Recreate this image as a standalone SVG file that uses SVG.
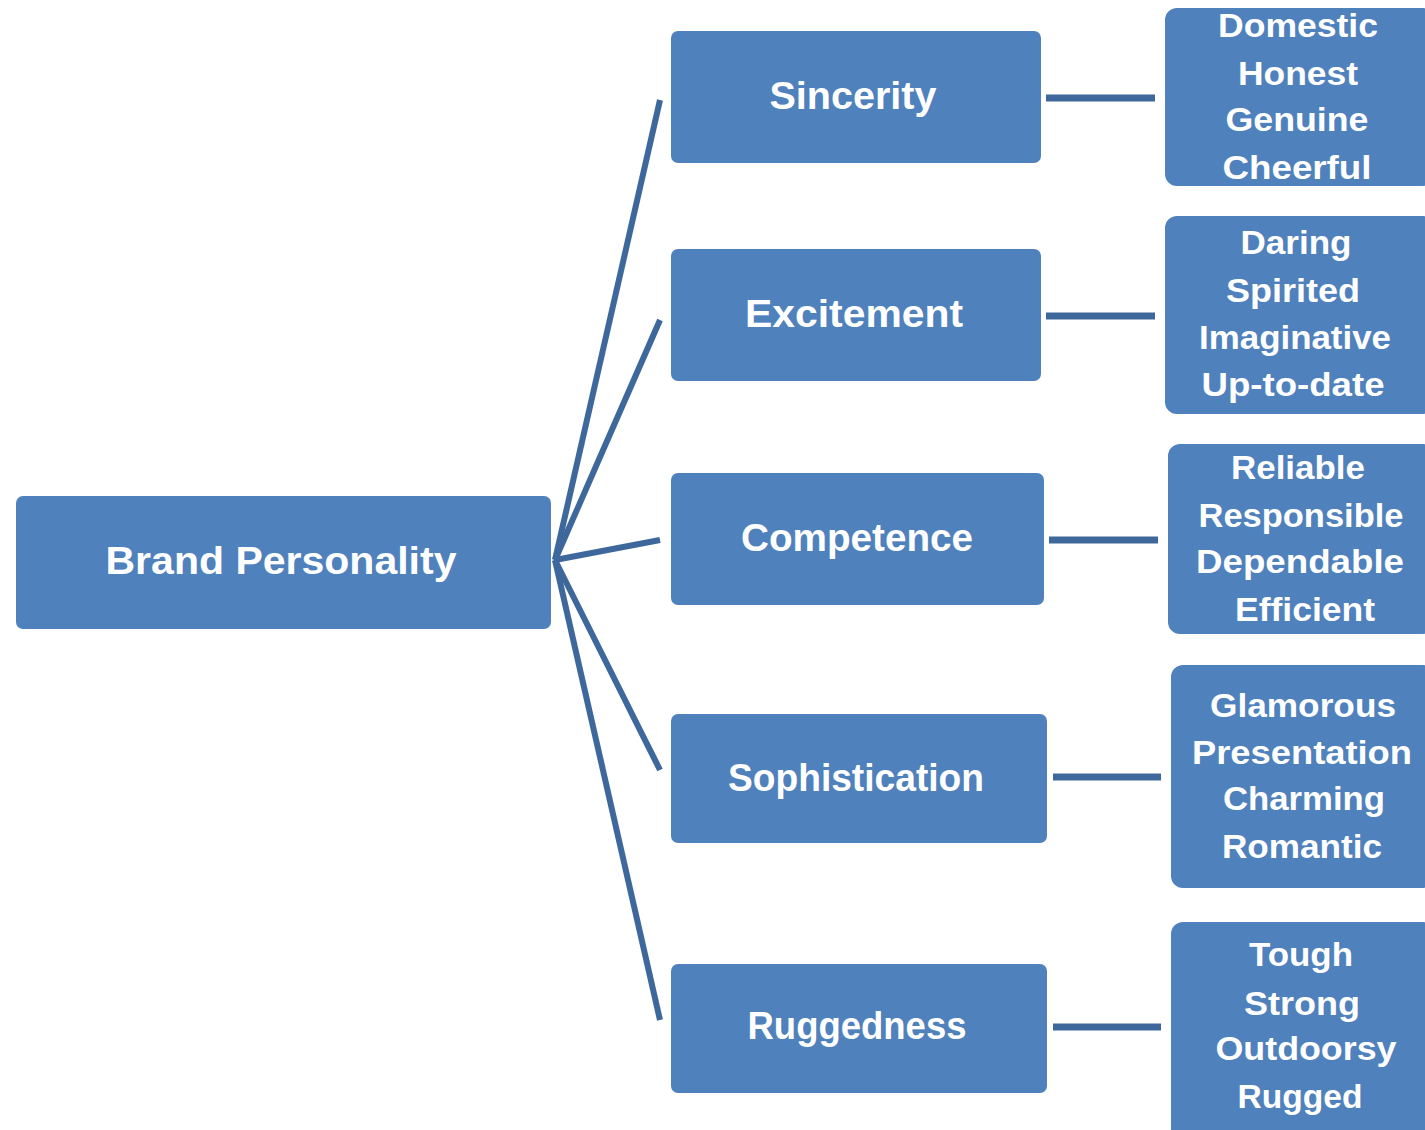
<svg xmlns="http://www.w3.org/2000/svg" width="1425" height="1130" viewBox="0 0 1425 1130">
<style>
.box{fill:#4F81BD;}
.t{font-family:"Liberation Sans",Arial,sans-serif;font-weight:bold;fill:#FFFFFF;text-anchor:middle;}
.m{font-size:38px;}
.r{font-size:33px;}
.l{font-size:39px;}
.c{stroke:#3E689B;stroke-width:6;fill:none;stroke-linecap:butt;}
.h{stroke:#3E689B;stroke-width:7;fill:none;}
</style>
<rect width="1425" height="1130" fill="#FFFFFF"/>
<g id="connectors">
<line class="c" x1="555" y1="560" x2="660" y2="100"/>
<line class="c" x1="555" y1="560" x2="660" y2="320"/>
<line class="c" x1="555" y1="560" x2="660" y2="540"/>
<line class="c" x1="555" y1="560" x2="660" y2="770"/>
<line class="c" x1="555" y1="560" x2="660" y2="1020"/>
<line class="h" x1="1046" y1="98" x2="1155" y2="98"/>
<line class="h" x1="1046" y1="316" x2="1155" y2="316"/>
<line class="h" x1="1049" y1="540" x2="1158" y2="540"/>
<line class="h" x1="1053" y1="777" x2="1161" y2="777"/>
<line class="h" x1="1053" y1="1027" x2="1161" y2="1027"/>
</g>
<g id="brand">
<rect class="box" x="16" y="496" width="535" height="133" rx="7"/>
<text class="t l" x="281" y="574" textLength="351" lengthAdjust="spacingAndGlyphs">Brand Personality</text>
</g>
<g id="sincerity">
<rect class="box" x="671" y="31" width="370" height="132" rx="7"/>
<text class="t m" x="853" y="109" textLength="167" lengthAdjust="spacingAndGlyphs">Sincerity</text>
</g>
<g id="excitement">
<rect class="box" x="671" y="249" width="370" height="132" rx="7"/>
<text class="t m" x="854" y="327" textLength="218" lengthAdjust="spacingAndGlyphs">Excitement</text>
</g>
<g id="competence">
<rect class="box" x="671" y="473" width="373" height="132" rx="7"/>
<text class="t m" x="857" y="551" textLength="232" lengthAdjust="spacingAndGlyphs">Competence</text>
</g>
<g id="sophistication">
<rect class="box" x="671" y="714" width="376" height="129" rx="7"/>
<text class="t m" x="856" y="791" textLength="256" lengthAdjust="spacingAndGlyphs">Sophistication</text>
</g>
<g id="ruggedness">
<rect class="box" x="671" y="964" width="376" height="129" rx="7"/>
<text class="t m" x="857" y="1039" textLength="219" lengthAdjust="spacingAndGlyphs">Ruggedness</text>
</g>
<g id="sincerity-traits">
<rect class="box" x="1165" y="8" width="270" height="178" rx="12"/>
<text class="t r" x="1298" y="37" textLength="160" lengthAdjust="spacingAndGlyphs">Domestic</text>
<text class="t r" x="1298" y="85" textLength="120" lengthAdjust="spacingAndGlyphs">Honest</text>
<text class="t r" x="1297" y="131" textLength="143" lengthAdjust="spacingAndGlyphs">Genuine</text>
<text class="t r" x="1297" y="179" textLength="149" lengthAdjust="spacingAndGlyphs">Cheerful</text>
</g>
<g id="excitement-traits">
<rect class="box" x="1165" y="216" width="270" height="198" rx="12"/>
<text class="t r" x="1296" y="254" textLength="111" lengthAdjust="spacingAndGlyphs">Daring</text>
<text class="t r" x="1293" y="302" textLength="134" lengthAdjust="spacingAndGlyphs">Spirited</text>
<text class="t r" x="1295" y="349" textLength="192" lengthAdjust="spacingAndGlyphs">Imaginative</text>
<text class="t r" x="1293" y="396" textLength="183" lengthAdjust="spacingAndGlyphs">Up-to-date</text>
</g>
<g id="competence-traits">
<rect class="box" x="1168" y="444" width="267" height="190" rx="12"/>
<text class="t r" x="1298" y="479" textLength="134" lengthAdjust="spacingAndGlyphs">Reliable</text>
<text class="t r" x="1301" y="527" textLength="205" lengthAdjust="spacingAndGlyphs">Responsible</text>
<text class="t r" x="1300" y="573" textLength="208" lengthAdjust="spacingAndGlyphs">Dependable</text>
<text class="t r" x="1305" y="621" textLength="140" lengthAdjust="spacingAndGlyphs">Efficient</text>
</g>
<g id="sophistication-traits">
<rect class="box" x="1171" y="665" width="264" height="223" rx="12"/>
<text class="t r" x="1303" y="717" textLength="186" lengthAdjust="spacingAndGlyphs">Glamorous</text>
<text class="t r" x="1302" y="764" textLength="220" lengthAdjust="spacingAndGlyphs">Presentation</text>
<text class="t r" x="1304" y="810" textLength="162" lengthAdjust="spacingAndGlyphs">Charming</text>
<text class="t r" x="1302" y="858" textLength="160" lengthAdjust="spacingAndGlyphs">Romantic</text>
</g>
<g id="ruggedness-traits">
<rect class="box" x="1171" y="922" width="264" height="220" rx="12"/>
<text class="t r" x="1301" y="966" textLength="104" lengthAdjust="spacingAndGlyphs">Tough</text>
<text class="t r" x="1302" y="1015" textLength="116" lengthAdjust="spacingAndGlyphs">Strong</text>
<text class="t r" x="1306" y="1060" textLength="181" lengthAdjust="spacingAndGlyphs">Outdoorsy</text>
<text class="t r" x="1300" y="1108" textLength="125" lengthAdjust="spacingAndGlyphs">Rugged</text>
</g>
</svg>
